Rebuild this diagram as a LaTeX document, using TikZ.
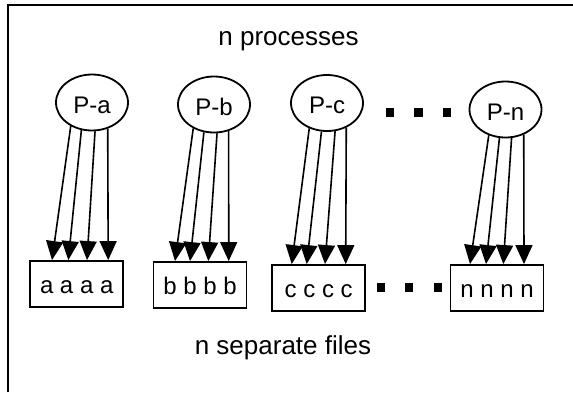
\documentclass[tikz,border=0pt]{standalone}
\usepackage{fontspec}
\setmainfont{Liberation Sans}
\usetikzlibrary{arrows.meta,shapes.geometric,calc}
\begin{document}
\begin{tikzpicture}[x=1pt,y=-1pt,
  proc/.style={ellipse,draw,line width=1.8pt,minimum width=72pt,minimum height=56pt,inner sep=0pt,font=\fontsize{24}{28}\selectfont,text height=21pt,text depth=0pt},
  file/.style={rectangle,draw,line width=1.9pt,minimum width=93pt,minimum height=46pt,inner sep=0pt,font=\fontsize{24}{28}\selectfont,text height=18pt,text depth=0pt},
  arr/.style={line width=1.6pt,-{Triangle[width=17pt,length=19pt]}},
  dotsq/.style={rectangle,fill=black,minimum size=8.5pt,inner sep=0pt},
  lbl/.style={font=\fontsize{26}{30}\selectfont,anchor=base}]
\useasboundingbox (0,0) rectangle (573,392);
\fill[white] (0,0) rectangle (573,392);
\draw[line width=2.6pt] (8,392) -- (8,5) -- (573,5);

\node[lbl] (top) at (288.5,45) {n processes};
\node[lbl] (bot) at (283,354) {n separate files};

\node[proc] (Pa) at (92,102.5) {P-a};
\node[proc] (Pb) at (214,104.5) {P-b};
\node[proc] (Pc) at (327,103) {P-c};
\node[proc] (Pn) at (505.5,109.5) {P-n};

\node[file] (fa) at (76.7,284) {a a a a};
\node[file] (fb) at (200,285) {b b b b};
\node[file] (fc) at (318.7,288) {c c c c};
\node[file] (fn) at (497,288) {n n n n};

\node[dotsq] (u1) at (390,112.5) {};
\node[dotsq] (u2) at (418.3,112.5) {};
\node[dotsq] (u3) at (447.2,112.5) {};
\node[dotsq] (l1) at (381,287.5) {};
\node[dotsq] (l2) at (409,287.5) {};
\node[dotsq] (l3) at (437.8,287.5) {};

\draw[arr] (Pa.228.7) -- ($(fa.north)+(-24.7,0)$);
\draw[arr] (Pa.249) -- ($(fa.north)+(-8.4,0)$);
\draw[arr] (Pa.276) -- ($(fa.north)+(10.3,0)$);
\draw[arr] (Pa.301) -- ($(fa.north)+(31.5,0)$);

\draw[arr] (Pb.229.9) -- ($(fb.north)+(-25,0)$);
\draw[arr] (Pb.250.2) -- ($(fb.north)+(-10,0)$);
\draw[arr] (Pb.276.7) -- ($(fb.north)+(8.3,0)$);
\draw[arr] (Pb.299.1) -- ($(fb.north)+(28.7,0)$);

\draw[arr] (Pc.235.5) -- ($(fc.north)+(-27,0)$);
\draw[arr] (Pc.259.2) -- ($(fc.north)+(-12,0)$);
\draw[arr] (Pc.286.3) -- ($(fc.north)+(6.3,0)$);
\draw[arr] (Pc.308) -- ($(fc.north)+(27,0)$);

\draw[arr] (Pn.237) -- ($(fn.north)+(-27,0)$);
\draw[arr] (Pn.258.8) -- ($(fn.north)+(-11,0)$);
\draw[arr] (Pn.282.7) -- ($(fn.north)+(6.3,0)$);
\draw[arr] (Pn.306.2) -- ($(fn.north)+(27,0)$);
\end{tikzpicture}
\end{document}
